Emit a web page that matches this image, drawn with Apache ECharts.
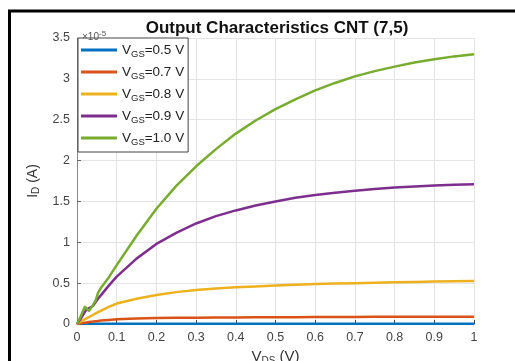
<!DOCTYPE html>
<html>
<head>
<meta charset="utf-8">
<script src="https://cdn.jsdelivr.net/npm/echarts@6/dist/echarts.min.js"></script>
<style>
  html, body { margin: 0; padding: 0; background: #fff; }
  #chart { width: 515px; height: 361px; }
</style>
</head>
<body>
<div id="chart"></div>
<script>
// V_DS sample points (V)
const vds = [0, 0.01, 0.015, 0.02, 0.025, 0.03, 0.04, 0.047, 0.053, 0.06, 0.08, 0.1,
  0.15, 0.2, 0.25, 0.3, 0.35, 0.4, 0.45, 0.5, 0.55, 0.6, 0.65, 0.7, 0.75, 0.8, 0.85, 0.9, 0.95, 1.0]

// I_D in units of 1e-5 A
const id05 = [0, 0.001, 0.001, 0.002, 0.002, 0.002, 0.003, 0.003, 0.003, 0.003, 0.004, 0.004,
  0.004, 0.004, 0.004, 0.004, 0.004, 0.004, 0.004, 0.004, 0.004, 0.004, 0.004, 0.004, 0.004,
  0.004, 0.004, 0.004, 0.004, 0.004]
const id07 = [0, 0.008, 0.012, 0.016, 0.02, 0.024, 0.03, 0.035, 0.038, 0.042, 0.05, 0.057,
  0.066, 0.072, 0.075, 0.078, 0.08, 0.081, 0.082, 0.083, 0.084, 0.085, 0.086, 0.087, 0.0875,
  0.088, 0.0885, 0.089, 0.0895, 0.09]
const id08 = [0, 0.03, 0.045, 0.06, 0.07, 0.085, 0.11, 0.13, 0.145, 0.16, 0.21, 0.25,
  0.31, 0.355, 0.39, 0.415, 0.435, 0.45, 0.46, 0.47, 0.48, 0.488, 0.495, 0.5, 0.505,
  0.51, 0.515, 0.52, 0.522, 0.525]
const id09 = [0, 0.07, 0.11, 0.15, 0.18, 0.17, 0.22, 0.27, 0.31, 0.35, 0.47, 0.58,
  0.8, 0.98, 1.115, 1.23, 1.32, 1.39, 1.45, 1.5, 1.545, 1.58, 1.607, 1.63, 1.652,
  1.67, 1.684, 1.695, 1.704, 1.71]
const id10 = [0, 0.1, 0.16, 0.21, 0.19, 0.16, 0.23, 0.29, 0.38, 0.44, 0.57, 0.72,
  1.08, 1.41, 1.69, 1.93, 2.14, 2.33, 2.49, 2.63, 2.75, 2.86, 2.95, 3.03, 3.095,
  3.15, 3.2, 3.24, 3.275, 3.3]

const vgsNames = ['0.5', '0.7', '0.8', '0.9', '1.0']
const seriesData = [id05, id07, id08, id09, id10]
const colors = ['#0072BD', '#D95319', '#EDB120', '#7E2F8E', '#77AC30']

const xTicks = { min: 0, max: 1, step: 0.1 }
const yTicks = { min: 0, max: 3.5, step: 0.5 }

const font = '"Liberation Sans", Arial, sans-serif'

const chart = echarts.init(document.getElementById('chart'))

const series = seriesData.map((ys, i) => ({
  name: vgsNames[i],
  type: 'line',
  data: vds.map((v, k) => [v, ys[k]]),
  showSymbol: false,
  lineStyle: { width: 2.5, color: colors[i], join: 'round' },
  itemStyle: { color: colors[i] },
  z: 2 + i,
}))

chart.setOption({
  animation: false,
  textStyle: { fontFamily: font },
  title: [
    {
      text: 'Output Characteristics CNT (7,5)',
      left: 272,
      top: 15,
      textAlign: 'center',
      textStyle: { fontSize: 17, fontWeight: 'bold', color: '#111', fontFamily: font },
    },
    {
      text: '×10{sup|-5}',
      left: 77,
      top: 25,
      textStyle: {
        fontSize: 10, color: '#555', fontWeight: 'normal', fontFamily: font,
        rich: { sup: { fontSize: 8, color: '#555', padding: [0, 0, 6, 0] } },
      },
    },
  ],
  grid: { left: 77, right: 41, top: 38, bottom: 37, outerBoundsMode: 'none' },
  legend: {
    orient: 'vertical',
    left: 78,
    top: 38,
    padding: [5, 4, 5, 3],
    itemGap: 6,
    itemWidth: 36,
    itemHeight: 3,
    icon: 'rect',
    backgroundColor: '#fff',
    borderColor: '#444',
    borderWidth: 1,
    formatter: name => '{v|V}{s|GS}{v|=' + name + ' V}',
    textStyle: {
      rich: {
        v: { fontSize: 13.5, color: '#222', fontFamily: font },
        s: { fontSize: 9.5, color: '#222', fontFamily: font, padding: [8, 0, 0, 0] },
      },
    },
    data: vgsNames,
  },
  xAxis: {
    type: 'value',
    min: xTicks.min,
    max: xTicks.max,
    interval: xTicks.step,
    name: '{v|V}{s|DS}{v| (V)}',
    nameLocation: 'middle',
    nameGap: 20,
    nameTextStyle: {
      rich: {
        v: { fontSize: 15, color: '#333', fontFamily: font },
        s: { fontSize: 10, color: '#333', fontFamily: font, padding: [9, 0, 0, 0] },
      },
    },
    axisLine: { lineStyle: { color: '#666', width: 1 } },
    axisTick: { inside: true, length: 4, lineStyle: { color: '#444' } },
    axisLabel: { color: '#444', fontSize: 12.5, margin: 7 },
    splitLine: { show: true, lineStyle: { color: '#e4e4e4', width: 1 } },
  },
  yAxis: {
    type: 'value',
    min: yTicks.min,
    max: yTicks.max,
    interval: yTicks.step,
    name: '{v|I}{s|D}{v| (A)}',
    nameLocation: 'middle',
    nameGap: 33,
    nameRotate: 90,
    nameTextStyle: {
      rich: {
        v: { fontSize: 14, color: '#333', fontFamily: font },
        s: { fontSize: 10, color: '#333', fontFamily: font, padding: [8, 0, 0, 0] },
      },
    },
    axisLine: { show: true, lineStyle: { color: '#888', width: 1 } },
    axisTick: { show: true, inside: true, length: 4, lineStyle: { color: '#666' } },
    axisLabel: { color: '#444', fontSize: 12.5, margin: 7 },
    splitLine: { show: true, lineStyle: { color: '#e4e4e4', width: 1 } },
  },
  graphic: [
    {
      type: 'rect',
      shape: { x: 9.5, y: 11, width: 700, height: 500 },
      style: { fill: null, stroke: '#000', lineWidth: 3 },
      silent: true,
      z: 100,
    },
  ],
  series: series,
})
</script>
</body>
</html>
